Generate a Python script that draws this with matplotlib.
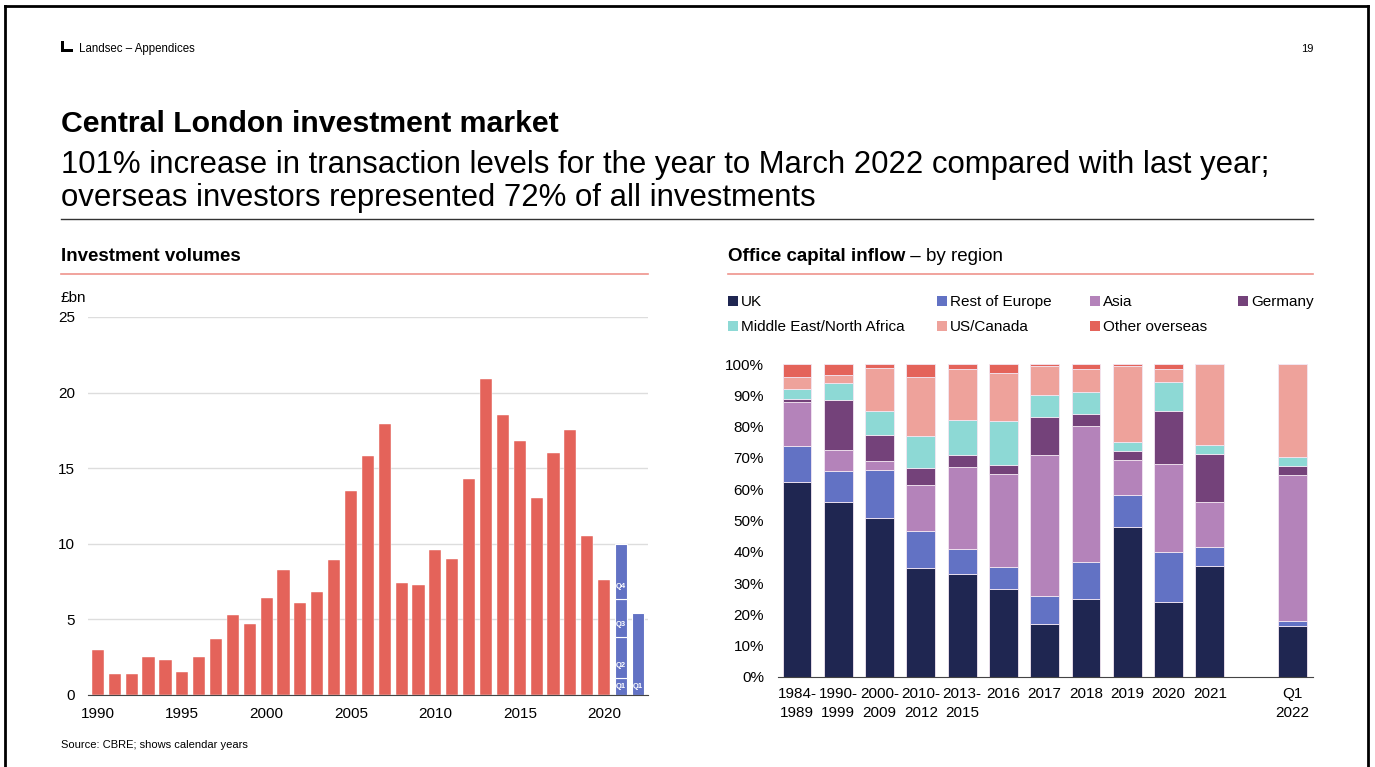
import numpy as np
import matplotlib.pyplot as plt
from matplotlib.patches import Rectangle
from matplotlib.lines import Line2D

plt.rcParams['font.family'] = ['Liberation Sans', 'DejaVu Sans']

# Investment volumes, £bn (calendar years)
years = list(range(1990, 2021))
volumes = [3.0, 1.4, 1.4, 2.5, 2.3, 1.5, 2.5, 3.7, 5.3, 4.7,
           6.4, 8.3, 6.1, 6.8, 8.9, 13.5, 15.8, 17.9, 7.4, 7.3,
           9.6, 9.0, 14.3, 20.9, 18.5, 16.8, 13.0, 16.0, 17.5, 10.5,
           7.6]
quarters = ['Q1', 'Q2', 'Q3', 'Q4']
q_2021 = [1.15, 2.7, 2.5, 3.65]
q_2022 = [5.4]

# Office capital inflow by region, % share
periods = ['1984-\n1989', '1990-\n1999', '2000-\n2009', '2010-\n2012', '2013-\n2015',
           '2016', '2017', '2018', '2019', '2020', '2021', 'Q1\n2022']
uk = [62.3, 55.9, 50.7, 34.9, 33.0, 28.0, 16.8, 24.8, 48.0, 24.0, 35.4, 16.4]
rest_of_europe = [11.4, 9.9, 15.4, 11.7, 8.0, 7.1, 9.0, 12.0, 10.0, 16.0, 6.1, 1.4]
asia = [14.1, 6.6, 2.9, 14.6, 26.0, 29.6, 45.2, 43.3, 11.2, 28.2, 14.3, 46.6]
germany = [1.0, 16.1, 8.4, 5.6, 3.8, 2.9, 12.0, 4.0, 3.0, 16.8, 15.4, 3.0]
middle_east = [3.1, 5.3, 7.6, 10.3, 11.3, 14.3, 7.2, 7.0, 2.8, 9.1, 2.9, 2.9]
us_canada = [3.8, 2.7, 13.6, 18.9, 16.3, 15.3, 9.1, 7.2, 24.3, 4.3, 25.9, 29.7]
other_overseas = [4.3, 3.5, 1.4, 4.0, 1.6, 2.8, 0.7, 1.7, 0.7, 1.6, 0.0, 0.0]

regions = ['UK', 'Rest of Europe', 'Asia', 'Germany',
           'Middle East/North Africa', 'US/Canada', 'Other overseas']
region_colors = ['#1f2651', '#6272c4', '#b483ba', '#74427a',
                 '#8dd9d5', '#eea29b', '#e4635a']

W, H = 1375, 767
red = '#e4635a'
blue = '#6272c4'


def box(left, top, right, bottom):
    # pixel box -> figure fraction rect
    return [left / W, 1 - bottom / H, (right - left) / W, (bottom - top) / H]


fig = plt.figure(figsize=(W / 100, H / 100), dpi=100)

# page frame
for xs, ys in [([5 / W, 5 / W], [0, 1 - 6 / H]),
               ([5 / W, 1368 / W], [1 - 6 / H, 1 - 6 / H]),
               ([1368 / W, 1368 / W], [0, 1 - 6 / H])]:
    fig.add_artist(Line2D(xs, ys, color='black', lw=2))

# header
fig.add_artist(Rectangle((61 / W, 1 - 52 / H), 3 / W, 11 / H, color='black', lw=0))
fig.add_artist(Rectangle((61 / W, 1 - 52 / H), 12 / W, 3 / H, color='black', lw=0))
fig.text(79 / W, 1 - 49 / H, 'Landsec \u2013 Appendices', fontsize=8.3, va='center')
fig.text(1313 / W, 1 - 49 / H, '19', fontsize=8, va='center', ha='right')

fig.text(61 / W, 1 - 124 / H, 'Central London investment market',
         fontsize=21.8, fontweight='bold', va='center')
fig.text(61 / W, 1 - 165 / H,
         '101% increase in transaction levels for the year to March 2022 compared with last year;',
         fontsize=22.4, va='center')
fig.text(61 / W, 1 - 198 / H, 'overseas investors represented 72% of all investments',
         fontsize=22.4, va='center')
fig.add_artist(Line2D([61 / W, 1313 / W], [1 - 219 / H, 1 - 219 / H], color='#333333', lw=1))

# panel headings
fig.text(61 / W, 1 - 257 / H, 'Investment volumes', fontsize=13.5, fontweight='bold', va='center')
fig.add_artist(Line2D([61 / W, 648 / W], [1 - 274 / H, 1 - 274 / H], color='#ef948c', lw=1.2))
t = fig.text(728 / W, 1 - 257 / H, 'Office capital inflow', fontsize=13.5, fontweight='bold', va='center')
fig.canvas.draw()
bb = t.get_window_extent()
fig.text(bb.x1 / W, 1 - 257 / H, ' \u2013 by region', fontsize=13.5, va='center')
fig.add_artist(Line2D([728 / W, 1313 / W], [1 - 274 / H, 1 - 274 / H], color='#ef948c', lw=1.2))

# left chart: annual volumes
ax1 = fig.add_axes(box(88, 317, 648, 695))
ax1.bar(years, volumes, width=0.72, color=red, edgecolor='white', linewidth=0.3, zorder=3)
bottom = 0
for q, v in zip(quarters, q_2021):
    ax1.bar(2021, v, bottom=bottom, width=0.72, color=blue, edgecolor='white', linewidth=0.8, zorder=3)
    ax1.text(2021, bottom + min(0.8, v / 2), q, color='white', fontsize=5.5, fontweight='bold',
             ha='center', va='center', zorder=4)
    bottom += v
ax1.bar(2022, q_2022[0], width=0.72, color=blue, edgecolor='white', linewidth=0.8, zorder=3)
ax1.text(2022, 0.55, 'Q1', color='white', fontsize=5.5, fontweight='bold',
         ha='center', va='center', zorder=4)

ax1.set_xlim(1989.41, 2022.6)
ax1.set_ylim(0, 25)
ax1.set_yticks(range(0, 26, 5))
ax1.set_xticks(range(1990, 2021, 5))
ax1.grid(axis='y', color='#dddddd', lw=1, zorder=0)
ax1.tick_params(length=0, labelsize=11, pad=9.5)
ax1.tick_params(axis='x', pad=9)
for s in ['top', 'right', 'left']:
    ax1.spines[s].set_visible(False)
ax1.spines['bottom'].set_color('#444444')
ax1.spines['bottom'].set_zorder(5)
fig.text(61 / W, 1 - 298 / H, '\u00a3bn', fontsize=11, va='center')
fig.text(61 / W, 1 - 745 / H, 'Source: CBRE; shows calendar years', fontsize=8, va='center')

# right chart: share of capital inflow by region
ax2 = fig.add_axes(box(778, 364, 1313, 677))
pos = list(range(11)) + [12]
shares = [uk, rest_of_europe, asia, germany, middle_east, us_canada, other_overseas]
base = np.zeros(len(pos))
for vals, c in zip(shares, region_colors):
    ax2.bar(pos, vals, bottom=base, width=0.7, color=c, edgecolor='#f3e6f2', linewidth=0.6, zorder=3)
    base += np.array(vals)
ax2.set_xlim(-0.46, 12.5)
ax2.set_ylim(0, 100)
ax2.set_yticks(range(0, 101, 10))
ax2.set_yticklabels([f'{v}%' for v in range(0, 101, 10)])
ax2.set_xticks(pos)
ax2.set_xticklabels(periods, linespacing=1.45)
ax2.tick_params(length=0, labelsize=11, pad=10)
ax2.tick_params(axis='x', pad=7)
for s in ['top', 'right', 'left']:
    ax2.spines[s].set_visible(False)
ax2.spines['bottom'].set_color('#444444')
ax2.spines['bottom'].set_zorder(5)

# legend
legend_pos = [(728, 302), (937, 302), (1090, 302), (1238, 302),
              (728, 327), (937, 327), (1090, 327)]
for name, c, (lx, ly) in zip(regions, region_colors, legend_pos):
    fig.add_artist(Rectangle((lx / W, 1 - (ly + 4) / H), 10 / W, 10 / H, color=c, lw=0))
    fig.text((lx + 13) / W, 1 - ly / H, name, fontsize=11, va='center')

fig.savefig('out.png', dpi=100)
